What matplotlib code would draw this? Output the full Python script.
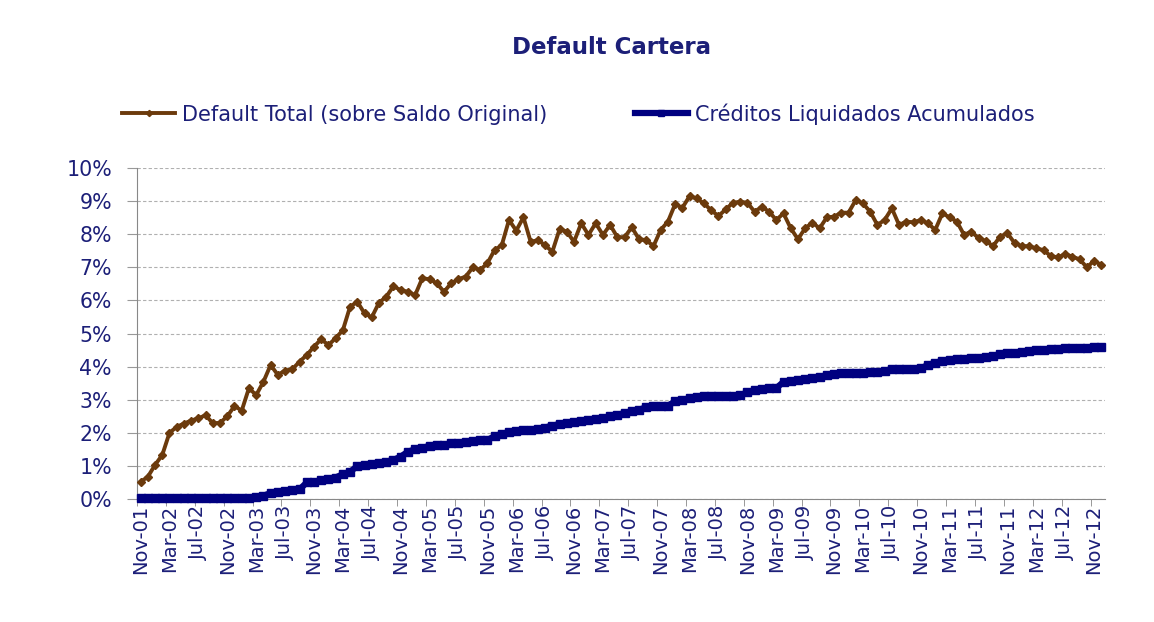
import matplotlib.pyplot as plt
import numpy as np

# monthly series, Nov-01 .. Dec-12 (values in %)
months = ['Jan', 'Feb', 'Mar', 'Apr', 'May', 'Jun',
          'Jul', 'Aug', 'Sep', 'Oct', 'Nov', 'Dec']
start_year, start_month = 2001, 11

default_total = [
    0.52, 0.67, 1.03, 1.33, 2.00, 2.18, 2.28, 2.37, 2.44, 2.53,
    2.29, 2.30, 2.50, 2.81, 2.67, 3.35, 3.14, 3.54, 4.05, 3.75,
    3.88, 3.92, 4.15, 4.35, 4.60, 4.83, 4.65, 4.86, 5.10, 5.81,
    5.96, 5.61, 5.49, 5.93, 6.11, 6.43, 6.31, 6.26, 6.16, 6.67,
    6.64, 6.52, 6.26, 6.52, 6.64, 6.72, 7.00, 6.92, 7.12, 7.52,
    7.67, 8.43, 8.11, 8.51, 7.77, 7.82, 7.67, 7.47, 8.15, 8.08,
    7.77, 8.33, 7.98, 8.33, 7.98, 8.28, 7.91, 7.91, 8.21, 7.85,
    7.82, 7.64, 8.13, 8.38, 8.91, 8.80, 9.15, 9.08, 8.93, 8.72,
    8.55, 8.75, 8.95, 8.98, 8.95, 8.68, 8.83, 8.68, 8.43, 8.63,
    8.18, 7.85, 8.18, 8.35, 8.18, 8.51, 8.53, 8.65, 8.65, 9.03,
    8.93, 8.68, 8.28, 8.43, 8.78, 8.28, 8.38, 8.36, 8.43, 8.33,
    8.13, 8.63, 8.51, 8.38, 7.98, 8.08, 7.88, 7.80, 7.64, 7.93,
    8.03, 7.73, 7.64, 7.64, 7.57, 7.52, 7.34, 7.30, 7.40, 7.32,
    7.24, 7.00, 7.20, 7.07,
]

liquidados = [
    0.02, 0.02, 0.02, 0.02, 0.02, 0.02, 0.02, 0.02, 0.02, 0.02,
    0.02, 0.02, 0.02, 0.02, 0.02, 0.03, 0.07, 0.10, 0.18, 0.22,
    0.24, 0.27, 0.29, 0.50, 0.52, 0.57, 0.62, 0.65, 0.75, 0.82,
    1.00, 1.03, 1.05, 1.10, 1.13, 1.18, 1.28, 1.43, 1.50, 1.55,
    1.60, 1.63, 1.63, 1.68, 1.70, 1.72, 1.75, 1.77, 1.78, 1.90,
    1.97, 2.02, 2.05, 2.08, 2.10, 2.12, 2.16, 2.22, 2.26, 2.30,
    2.33, 2.37, 2.39, 2.41, 2.44, 2.50, 2.55, 2.59, 2.66, 2.70,
    2.77, 2.80, 2.81, 2.82, 2.95, 3.00, 3.04, 3.07, 3.10, 3.11,
    3.11, 3.11, 3.12, 3.14, 3.22, 3.29, 3.32, 3.34, 3.35, 3.54,
    3.57, 3.60, 3.63, 3.66, 3.68, 3.75, 3.79, 3.80, 3.80, 3.81,
    3.82, 3.83, 3.85, 3.88, 3.92, 3.93, 3.94, 3.92, 3.95, 4.05,
    4.12, 4.17, 4.19, 4.22, 4.23, 4.25, 4.27, 4.29, 4.33, 4.37,
    4.42, 4.42, 4.43, 4.46, 4.50, 4.51, 4.52, 4.54, 4.55, 4.55,
    4.56, 4.57, 4.58, 4.60,
]

n = len(default_total)
labels = []
for k in range(n):
    m = (start_month - 1 + k) % 12
    y = start_year + (start_month - 1 + k) // 12
    labels.append(f"{months[m]}-{y % 100:02d}")

navy = '#1c1f78'
brown = '#6b3a0c'
blue = '#000080'

fig = plt.figure(figsize=[11.54, 6.22], dpi=100)
ax = fig.add_axes([0.1187, 0.1977, 0.8388, 0.5322])

x = np.arange(n)
ax.plot(x, default_total, color=brown, lw=2.8, marker='D', ms=4.5,
        label='Default Total (sobre Saldo Original)', zorder=3)
ax.plot(x, liquidados, color=blue, lw=4.5, marker='s', ms=5.5,
        label='Créditos Liquidados Acumulados', zorder=3, clip_on=False)

ax.set_xlim(-0.5, n - 0.5)
ax.set_ylim(0, 10)
ax.set_yticks(np.arange(0, 11, 1))
ax.set_yticklabels([f"{v}%" for v in range(11)])

# labels every 4 months, tick marks on category boundaries
ax.set_xticks(x[::4])
ax.set_xticklabels(labels[::4], rotation=90)
ax.set_xticks(np.arange(-0.5, n, 4), minor=True)
ax.tick_params(axis='x', which='major', length=0, colors=navy, labelsize=14, pad=4)
ax.tick_params(axis='x', which='minor', length=5, color='#888888')
ax.tick_params(axis='y', length=7, color='#999999', colors=navy, labelsize=14.8, pad=11)

ax.grid(axis='y', color='#b0b0b0', linestyle=(0, (3, 2)), linewidth=0.8)
ax.set_axisbelow(True)
for side in ['top', 'right']:
    ax.spines[side].set_visible(False)
for side in ['left', 'bottom']:
    ax.spines[side].set_color('#888888')

fig.text(612 / 1154, 1 - 47 / 622, 'Default Cartera', ha='center', va='center',
         fontsize=16.5, fontweight='bold', color=navy)

fig.legend(loc='center', bbox_to_anchor=(0.501, 1 - 114 / 622), ncol=2, frameon=False,
           fontsize=15, labelcolor=navy, handlelength=2.55, handletextpad=0.33,
           columnspacing=4.2, markerscale=0.7)

fig.savefig('out.png', dpi=100)
